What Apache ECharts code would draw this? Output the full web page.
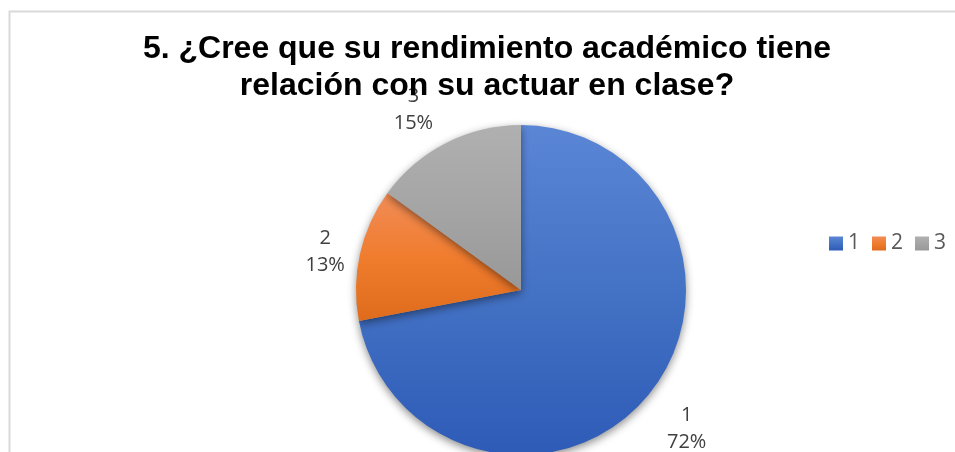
<!DOCTYPE html>
<html>
<head>
<meta charset="utf-8">
<script src="https://cdn.jsdelivr.net/npm/echarts@6/dist/echarts.min.js"></script>
<style>
  html, body { margin: 0; padding: 0; background: #fff; }
  #chart { width: 955px; height: 452px; }
</style>
</head>
<body>
<div id="chart"></div>
<script>
// respuestas de la pregunta 5
var categorias = ['1', '2', '3'];
var valores = [72, 13, 15];
var titulo = '5. ¿Cree que su rendimiento académico tiene\nrelación con su actuar en clase?';

// degradados tipo Excel (arriba claro, abajo oscuro)
var colores = [
    ['#5b86d6', '#4472c4', '#2d5bb7'],
    ['#f18c57', '#f07c2e', '#df6b1d'],
    ['#b0b0b0', '#a5a5a5', '#989898']
];
// pequeños ajustes de las etiquetas (Excel no las pone justo en el ángulo medio)
var ajusteEtiqueta = [[0, 2], [14, 9], [-10, 11]];

function degradado(c) {
    return new echarts.graphic.LinearGradient(0, 0, 0, 1, [
        { offset: 0, color: c[0] },
        { offset: 0.5, color: c[1] },
        { offset: 1, color: c[2] }
    ]);
}

var datos = categorias.map(function (n, i) {
    return { name: n, value: valores[i], itemStyle: { color: degradado(colores[i]) } };
});
var datosEtiqueta = categorias.map(function (n, i) {
    return { name: n, value: valores[i] };
});

var myChart = echarts.init(document.getElementById('chart'));

var option = {
    backgroundColor: '#fff',
    animation: false,
    title: {
        text: titulo,
        left: 487,
        textAlign: 'center',
        top: 31,
        padding: 0,
        textStyle: {
            fontFamily: 'Liberation Sans',
            fontSize: 32,
            fontWeight: 'bold',
            color: '#000',
            lineHeight: 37
        }
    },
    legend: {
        data: categorias,
        left: 824,
        top: 228,
        icon: 'rect',
        itemWidth: 14,
        itemHeight: 14,
        itemGap: 12,
        textStyle: {
            fontFamily: 'Open Sans',
            fontSize: 21,
            color: '#595959'
        }
    },
    graphic: [{
        type: 'rect',
        left: 7,
        top: 9,
        shape: { width: 980, height: 480 },
        style: { fill: 'none', stroke: '#d9d9d9', lineWidth: 2 },
        silent: true
    }],
    series: [
        {
            name: 'pregunta5',
            type: 'pie',
            center: [521, 290],
            radius: 165,
            startAngle: 90,
            label: { show: false },
            labelLine: { show: false },
            itemStyle: {
                shadowBlur: 8,
                shadowOffsetY: 3,
                shadowColor: 'rgba(0,0,0,0.45)'
            },
            data: datos
        },
        {
            // serie invisible solo para las etiquetas centradas fuera del pastel
            name: 'etiquetas',
            type: 'pie',
            center: [521, 290],
            radius: [190, 234],
            startAngle: 90,
            silent: true,
            z: 1,
            itemStyle: { color: 'rgba(0,0,0,0)' },
            label: {
                show: true,
                position: 'inside',
                formatter: '{b}\n{d}%',
                fontFamily: 'Open Sans',
                fontSize: 20,
                lineHeight: 27,
                color: '#404040'
            },
            labelLine: { show: false },
            labelLayout: function (p) {
                var a = ajusteEtiqueta[p.dataIndex];
                return { dx: a[0], dy: a[1] };
            },
            data: datosEtiqueta
        }
    ]
};

myChart.setOption(option);
</script>
</body>
</html>
